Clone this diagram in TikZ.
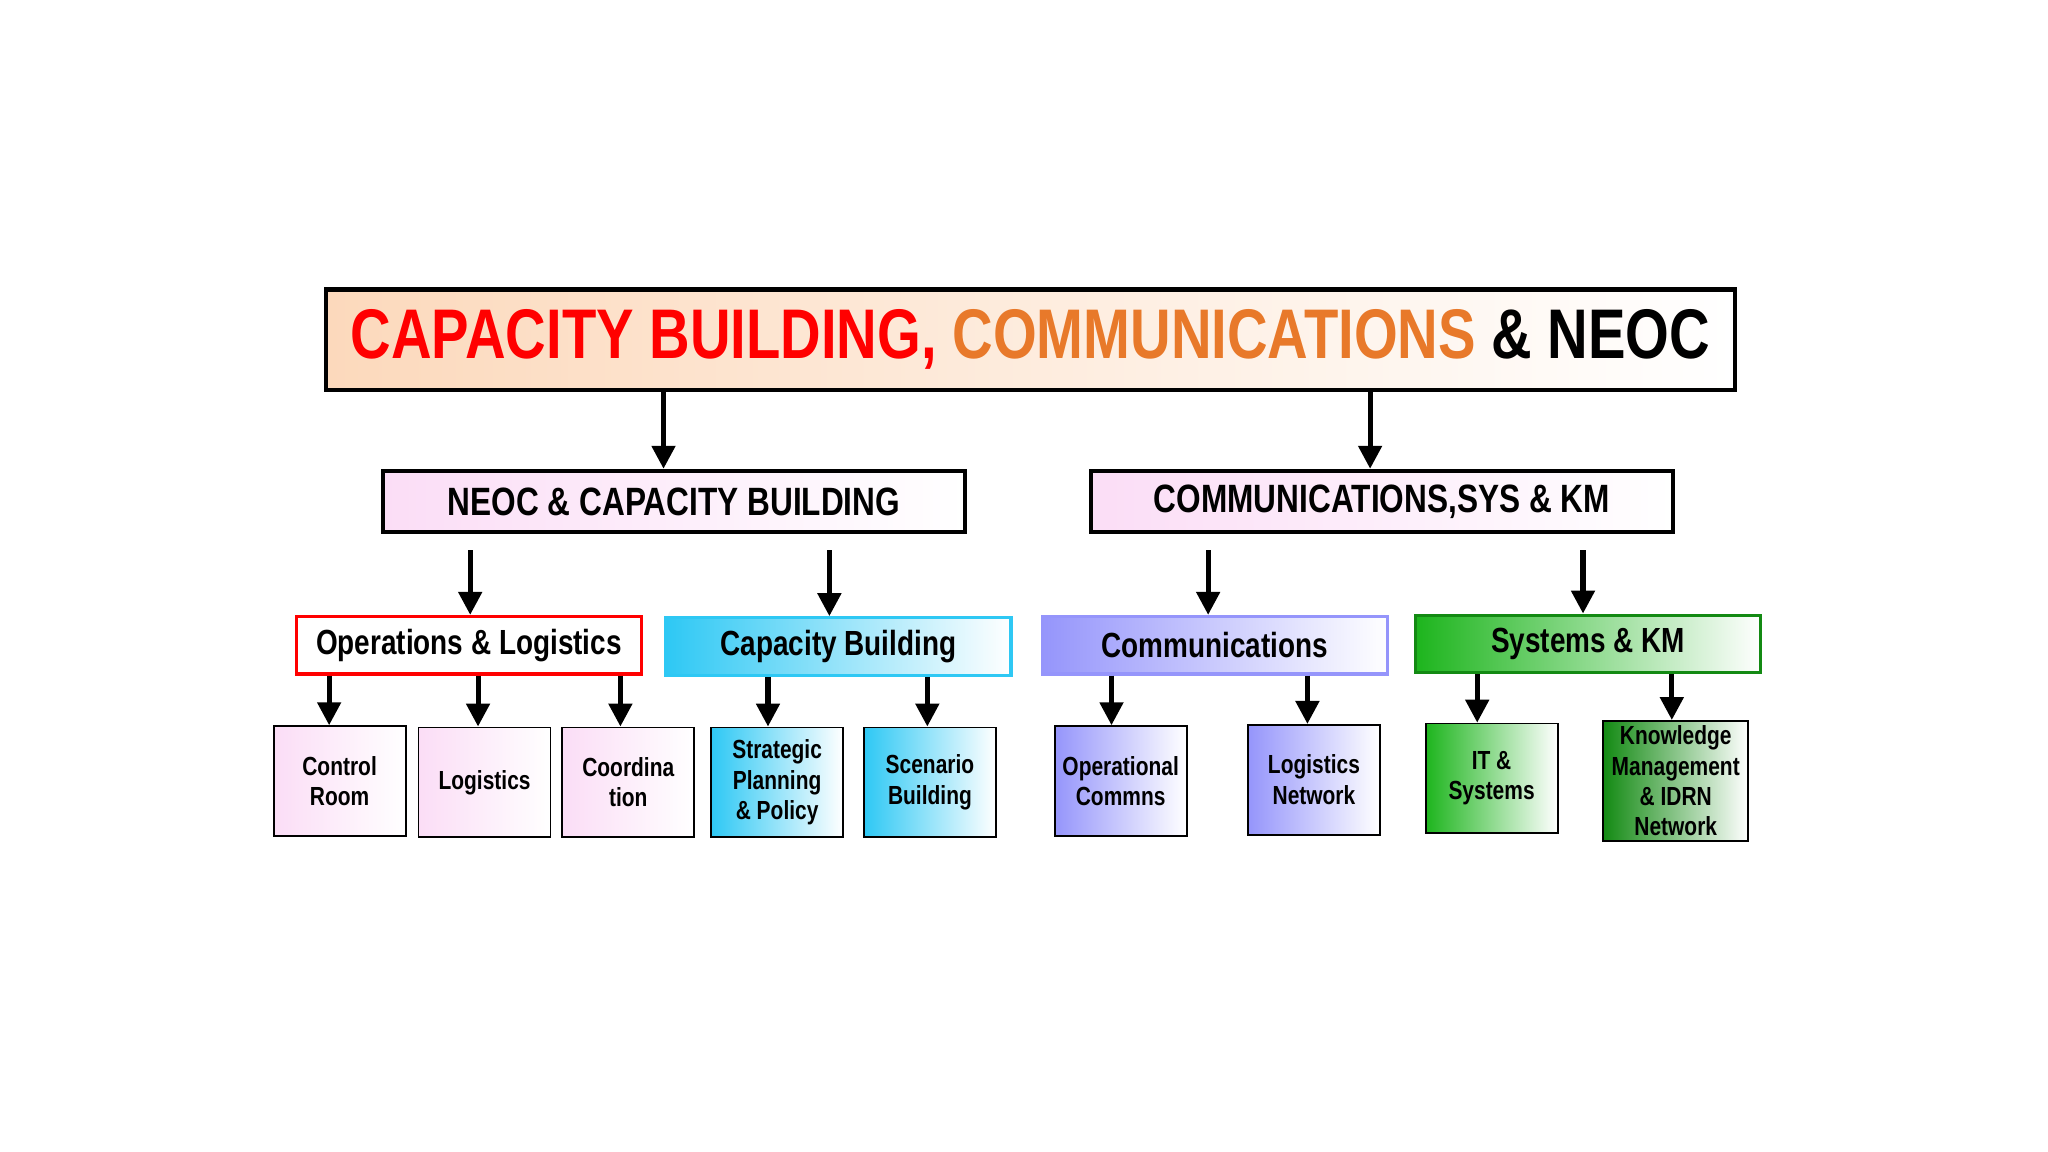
\documentclass[tikz,border=0pt]{standalone}
\usepackage{fontspec}
\setmainfont{Liberation Sans}[FakeStretch=0.8]
\usetikzlibrary{arrows.meta}
\definecolor{peach}{HTML}{FCD9BC}
\definecolor{pinkf}{HTML}{FBDDF6}
\definecolor{cyanf}{HTML}{2EC8F4}
\definecolor{purpf}{HTML}{9595FB}
\definecolor{greenf}{HTML}{1DB51D}
\definecolor{dgreen}{HTML}{138A13}
\definecolor{orng}{HTML}{E8792A}
\tikzset{
  arr/.style={line width=1.1pt,-{Triangle[length=5pt,width=5pt]}},
  bx/.style={inner sep=0pt,align=center,font=\bfseries},
  l2/.style={bx,draw=black,line width=0.9pt,left color=pinkf,right color=white,minimum width=4.45cm,minimum height=0.47cm,font=\bfseries\fontsize{8.6}{10}\selectfont},
  l3/.style={bx,line width=0.7pt,minimum width=2.64cm,minimum height=0.44cm,font=\bfseries\fontsize{7.6}{9}\selectfont},
  l4/.style={bx,draw=black,line width=0.4pt,minimum width=1.01cm,minimum height=0.84cm,font=\bfseries\fontsize{5.7}{6.6}\selectfont},
}
\begin{document}
\begin{tikzpicture}[x=0.01cm,y=-0.01cm]
\useasboundingbox (0,0) rectangle (1568,882);
\node[bx,draw=black,line width=1pt,left color=peach,right color=white,minimum width=10.78cm,minimum height=0.77cm,font=\bfseries\fontsize{15.3}{18}\selectfont] (t) at (789,260)
  {\textcolor{red}{CAPACITY BUILDING,} \textcolor{orng}{COMMUNICATIONS} \textcolor{black}{\& NEOC}};
\node[l2] (a) at (516,384) {NEOC \& CAPACITY BUILDING};
\node[l2] (b) at (1058,384) {COMMUNICATIONS,SYS \& KM};
\node[l3,draw=red,fill=white] (ol) at (359,494) {Operations \& Logistics};
\node[l3,draw=cyanf,left color=cyanf,right color=white] (cb) at (642,495) {Capacity Building};
\node[l3,draw=purpf,left color=purpf,right color=white] (cm) at (930,494) {Communications};
\node[l3,draw=dgreen,left color=greenf,right color=white] (sk) at (1216,493) {Systems \& KM};
\node[l4,left color=pinkf,right color=white] (c1) at (260,598) {Control\\Room};
\node[l4,left color=pinkf,right color=white] (c2) at (371,599) {Logistics};
\node[l4,left color=pinkf,right color=white] (c3) at (481,599) {Coordina\\tion};
\node[l4,left color=cyanf,right color=white] (c4) at (595,599) {Strategic\\Planning\\\& Policy};
\node[l4,left color=cyanf,right color=white] (c5) at (712,599) {Scenario\\Building};
\node[l4,left color=purpf,right color=white] (c6) at (858,598) {Operational\\Commns};
\node[l4,left color=purpf,right color=white] (c7) at (1006,597) {Logistics\\Network};
\node[l4,left color=greenf,right color=white] (c8) at (1142,596) {IT \&\\Systems};
\node[l4,left color=dgreen,right color=white,minimum width=1.11cm,minimum height=0.92cm] (c9) at (1283,598) {Knowledge\\Management\\\& IDRN\\Network};
\draw[arr] (t.south -| 508,0) -- (a.north -| 508,0);
\draw[arr] (t.south -| 1049,0) -- (b.north -| 1049,0);
\draw[arr] ([yshift=-0.12cm]a.south -| 360,0) -- (ol.north -| 360,0);
\draw[arr] ([yshift=-0.12cm]a.south -| 635,0) -- (cb.north -| 635,0);
\draw[arr] ([yshift=-0.12cm]b.south -| 925,0) -- (cm.north -| 925,0);
\draw[arr] ([yshift=-0.12cm]b.south -| 1212,0) -- (sk.north -| 1212,0);
\draw[arr] (ol.south -| 252,0) -- (c1.north -| 252,0);
\draw[arr] (ol.south -| 366,0) -- (c2.north -| 366,0);
\draw[arr] (ol.south -| 475,0) -- (c3.north -| 475,0);
\draw[arr] (cb.south -| 588,0) -- (c4.north -| 588,0);
\draw[arr] (cb.south -| 710,0) -- (c5.north -| 710,0);
\draw[arr] (cm.south -| 851,0) -- (c6.north -| 851,0);
\draw[arr] (cm.south -| 1001,0) -- (c7.north -| 1001,0);
\draw[arr] (sk.south -| 1131,0) -- (c8.north -| 1131,0);
\draw[arr] (sk.south -| 1280,0) -- (c9.north -| 1280,0);
\end{tikzpicture}
\end{document}
